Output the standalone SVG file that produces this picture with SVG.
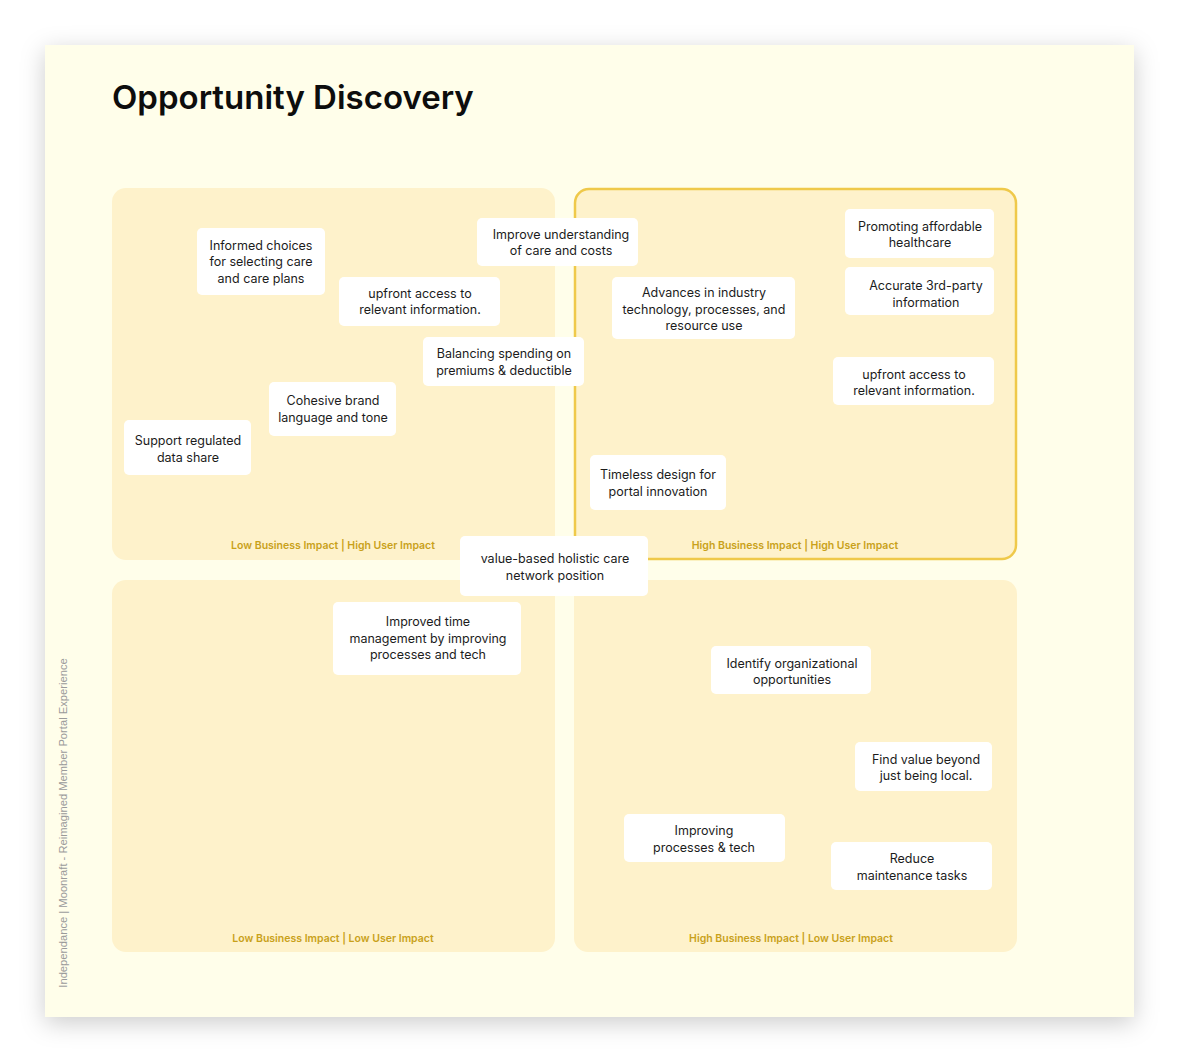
<svg xmlns="http://www.w3.org/2000/svg" width="1179" height="1062" viewBox="0 0 1179 1062">
<defs>
<filter id="shadow" x="-10%" y="-10%" width="120%" height="120%">
<feDropShadow dx="0" dy="6" stdDeviation="12" flood-color="#000" flood-opacity="0.2"/>
</filter>
<style>
.quad{fill:#FEF2CB;}
.note rect{fill:#FFFFFF;}
.note text{font-family:Inter,"DejaVu Sans",sans-serif;font-size:12.5px;fill:#1C1C1C;text-anchor:middle;dominant-baseline:central;}
.qlabel{font-family:Inter,"DejaVu Sans",sans-serif;font-size:10.5px;font-weight:600;fill:#C9A11A;text-anchor:middle;}
.title{font-family:Inter,"DejaVu Sans",sans-serif;font-size:33px;font-weight:600;fill:#0D0D0D;}
.side{font-family:"Liberation Sans",Arial,sans-serif;font-size:11.2px;fill:#9A9A9A;text-anchor:middle;}
</style>
</defs>
<rect x="0" y="0" width="1179" height="1062" fill="#FFFFFF"/>
<rect x="45" y="45" width="1089" height="972" fill="#FFFEEA" filter="url(#shadow)"/>
<text class="title" x="112" y="109">Opportunity Discovery</text>
<text class="side" transform="translate(67,823) rotate(-90)">Independance | Moonraft - Reimagined Member Portal Experience</text>

<g id="quadrants">
<g id="q-tl"><rect class="quad" x="112" y="188" width="443" height="372" rx="14"/><text class="qlabel" x="333" y="549">Low Business Impact | High User Impact</text></g>
<g id="q-tr"><rect class="quad" x="575" y="189" width="441" height="370" rx="14" stroke="#EFC94A" stroke-width="2.5"/><text class="qlabel" x="795" y="549">High Business Impact | High User Impact</text></g>
<g id="q-bl"><rect class="quad" x="112" y="580" width="443" height="372" rx="14"/><text class="qlabel" x="333" y="942">Low Business Impact | Low User Impact</text></g>
<g id="q-br"><rect class="quad" x="574" y="580" width="443" height="372" rx="14"/><text class="qlabel" x="791" y="942">High Business Impact | Low User Impact</text></g>
</g>

<g id="connectors"></g>

<g id="n1" class="note"><rect x="197" y="228" width="128" height="67" rx="5"/><text x="261" y="245">Informed choices</text><text x="261" y="261.5">for selecting care</text><text x="261" y="278">and care plans</text></g>
<g id="n2" class="note"><rect x="339" y="277" width="161" height="49" rx="5"/><text x="420" y="293">upfront access to</text><text x="420" y="309.5">relevant information.</text></g>
<g id="n3" class="note"><rect x="477" y="218" width="161" height="48" rx="5"/><text x="561" y="234">Improve understanding</text><text x="561" y="250.5">of care and costs</text></g>
<g id="n4" class="note"><rect x="423" y="337" width="161" height="49" rx="5"/><text x="504" y="353.5">Balancing spending on</text><text x="504" y="370">premiums &amp; deductible</text></g>
<g id="n5" class="note"><rect x="269" y="382" width="127" height="54" rx="5"/><text x="333" y="400.5">Cohesive brand</text><text x="333" y="417">language and tone</text></g>
<g id="n6" class="note"><rect x="124" y="420" width="127" height="55" rx="5"/><text x="188" y="440.5">Support regulated</text><text x="188" y="457">data share</text></g>
<g id="n7" class="note"><rect x="612" y="277" width="183" height="62" rx="5"/><text x="704" y="292.5">Advances in industry</text><text x="704" y="309">technology, processes, and</text><text x="704" y="325.5">resource use</text></g>
<g id="n8" class="note"><rect x="845" y="209" width="149" height="49" rx="5"/><text x="920" y="226">Promoting affordable</text><text x="920" y="242.5">healthcare</text></g>
<g id="n9" class="note"><rect x="845" y="267" width="149" height="48" rx="5"/><text x="926" y="285.5">Accurate 3rd-party</text><text x="926" y="302">information</text></g>
<g id="n10" class="note"><rect x="833" y="357" width="161" height="48" rx="5"/><text x="914" y="374">upfront access to</text><text x="914" y="390.5">relevant information.</text></g>
<g id="n11" class="note"><rect x="590" y="455" width="136" height="55" rx="5"/><text x="658" y="474.5">Timeless design for</text><text x="658" y="491">portal innovation</text></g>
<g id="n12" class="note"><rect x="460" y="536" width="188" height="60" rx="5"/><text x="555" y="558.5">value-based holistic care</text><text x="555" y="575">network position</text></g>
<g id="n13" class="note"><rect x="333" y="602" width="188" height="73" rx="5"/><text x="428" y="621.5">Improved time</text><text x="428" y="638">management by improving</text><text x="428" y="654.5">processes and tech</text></g>
<g id="n14" class="note"><rect x="711" y="646" width="160" height="48" rx="5"/><text x="792" y="663">Identify organizational</text><text x="792" y="679.5">opportunities</text></g>
<g id="n15" class="note"><rect x="855" y="742" width="137" height="49" rx="5"/><text x="926" y="759">Find value beyond</text><text x="926" y="775.5">just being local.</text></g>
<g id="n16" class="note"><rect x="624" y="814" width="161" height="48" rx="5"/><text x="704" y="830.5">Improving</text><text x="704" y="847">processes &amp; tech</text></g>
<g id="n17" class="note"><rect x="831" y="842" width="161" height="48" rx="5"/><text x="912" y="858.5">Reduce</text><text x="912" y="875">maintenance tasks</text></g>
</svg>
